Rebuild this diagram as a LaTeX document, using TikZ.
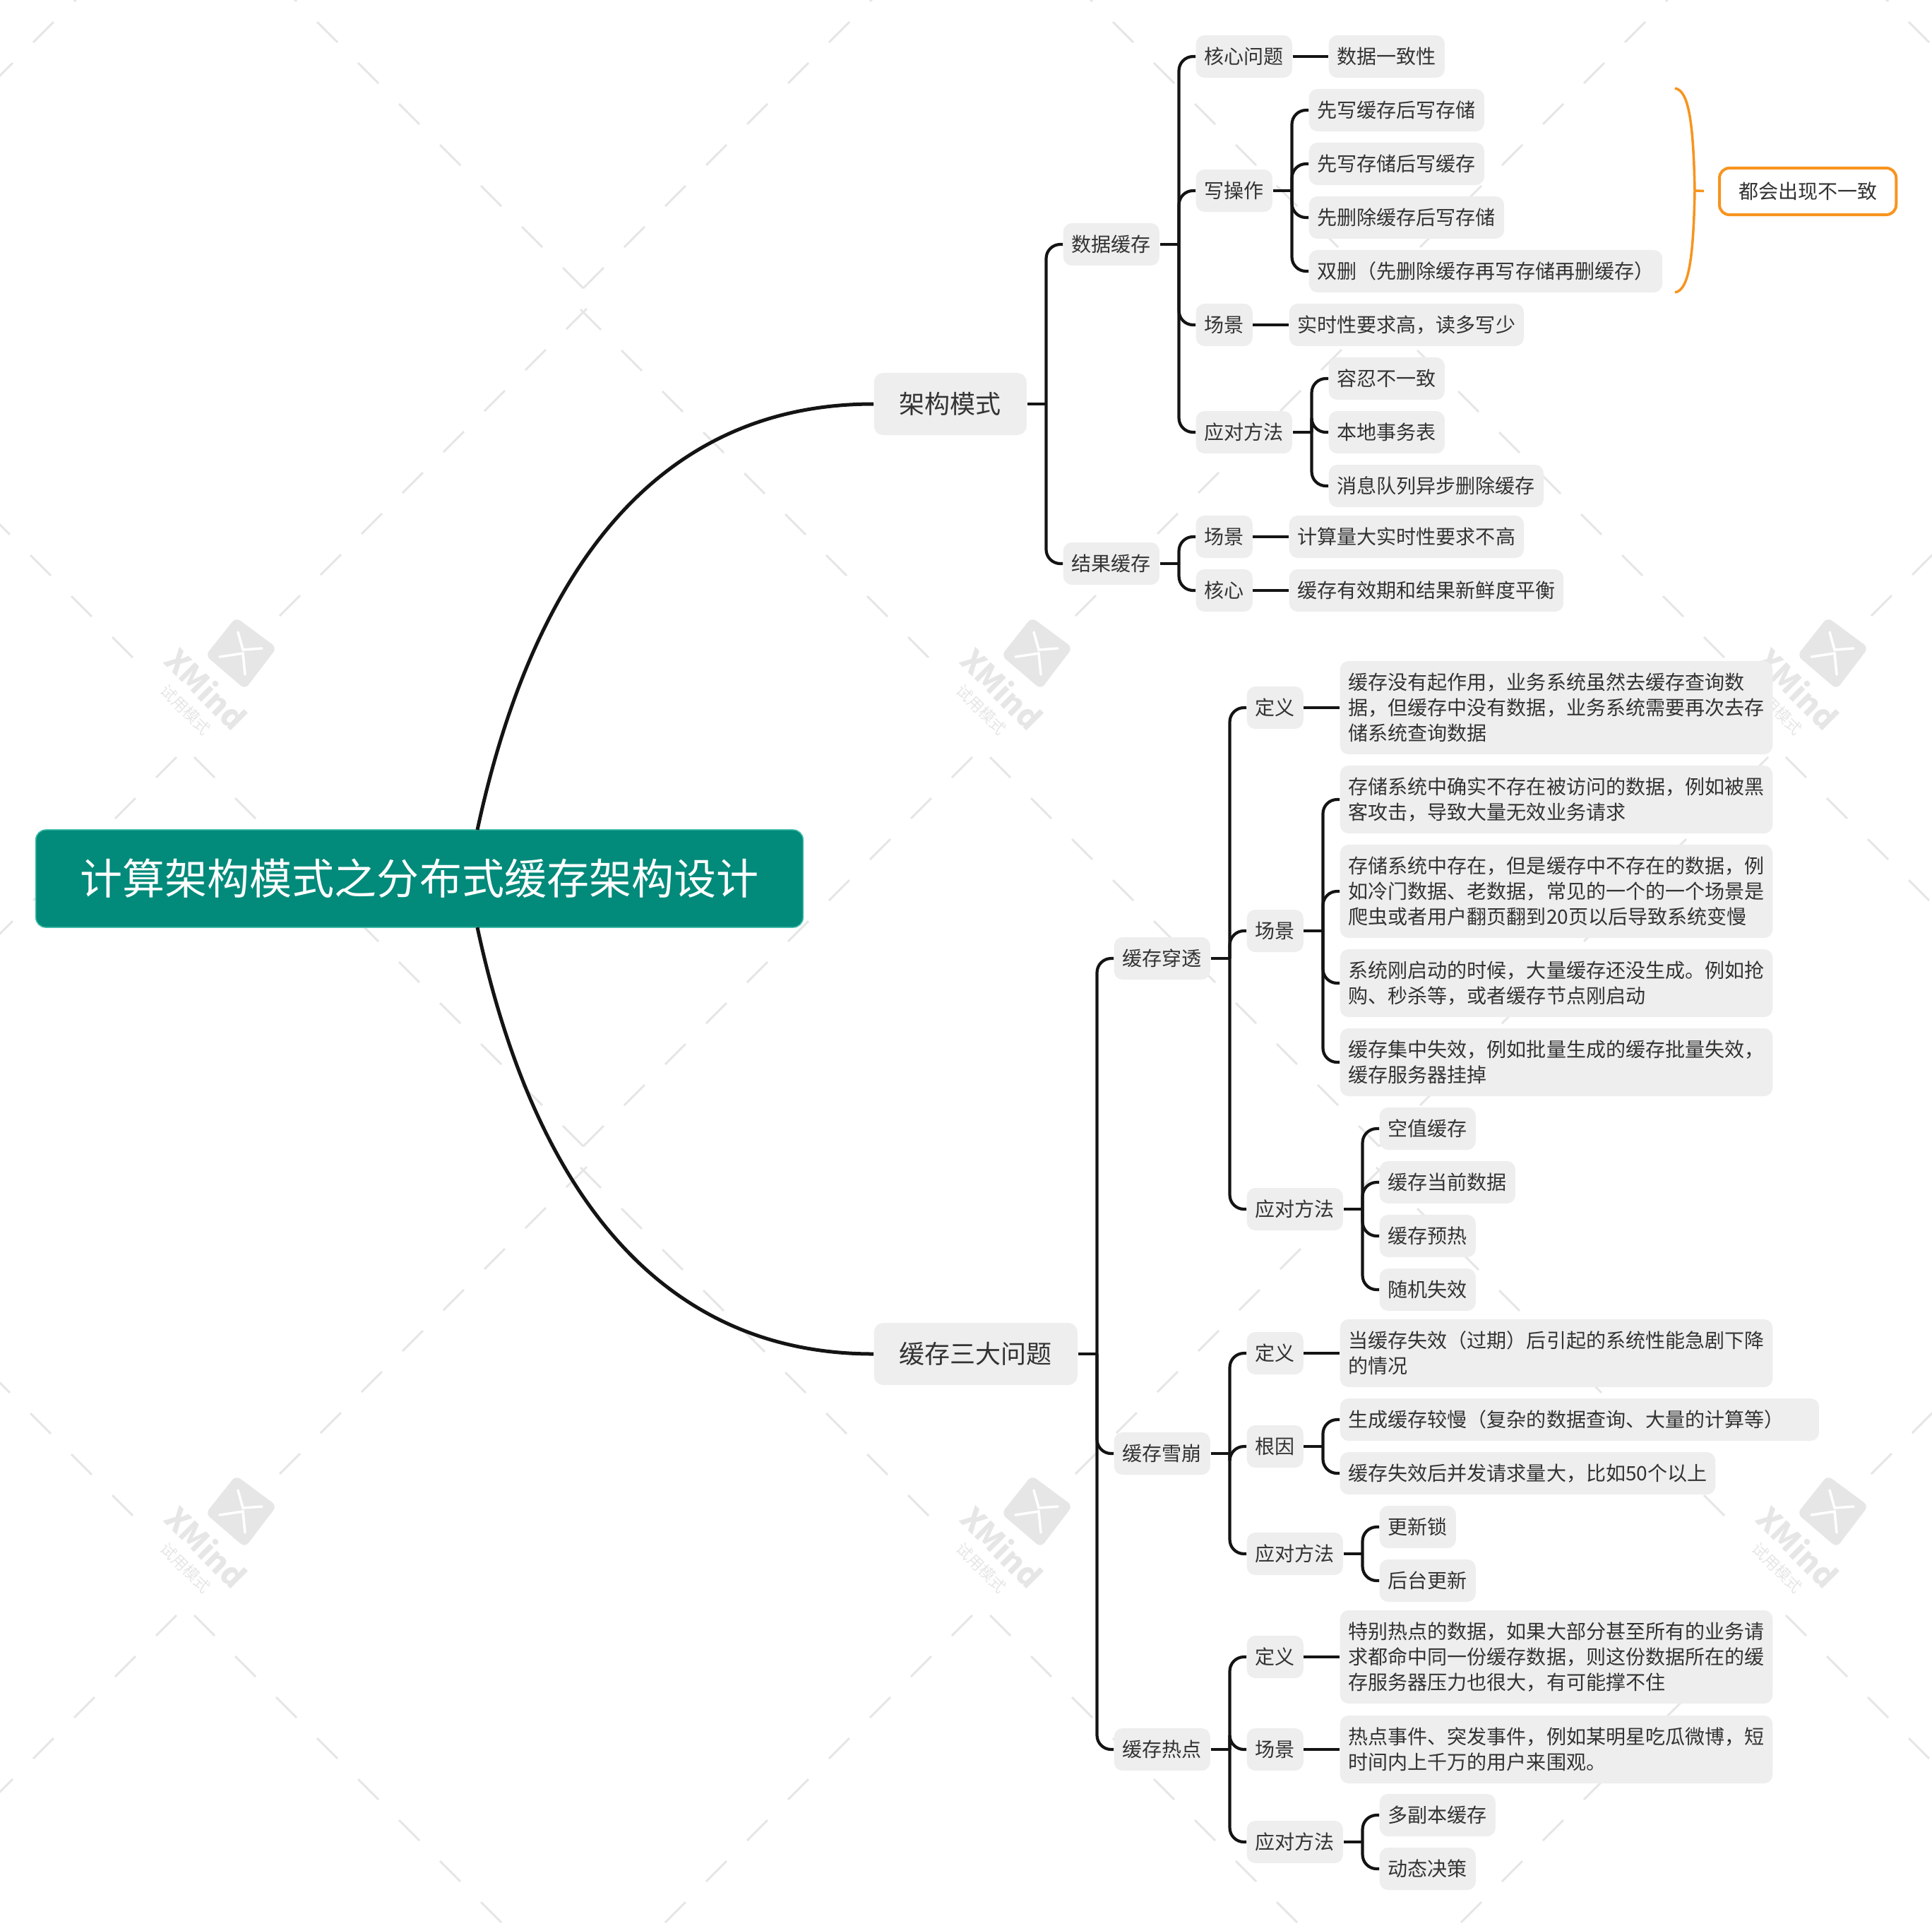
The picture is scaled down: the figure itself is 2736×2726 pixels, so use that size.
\documentclass[tikz,border=0pt]{standalone}
\usepackage{fontspec}
\setmainfont{Noto Sans CJK SC}
\definecolor{topicgray}{HTML}{EEEEEE}
\definecolor{rootgreen}{HTML}{028A7A}
\definecolor{rootedge}{HTML}{45BFAE}
\definecolor{linkblack}{HTML}{141414}
\definecolor{textdark}{HTML}{333333}
\definecolor{braceorange}{HTML}{F7941E}
\definecolor{markgray}{HTML}{E6E6E6}

\tikzset{
  rootbox/.style={fill=rootgreen, draw=rootedge, line width=0.015cm, rounded corners=0.14cm, text=white, minimum width=10.86cm, minimum height=1.38cm, font=\fontsize{17.07}{20}\selectfont},
  maintopic/.style={anchor=west, fill=topicgray, rounded corners=0.13cm, text=textdark, inner xsep=0.36cm, inner ysep=0pt, minimum height=0.88cm, font=\fontsize{10.24}{12}\selectfont},
  topic/.style={anchor=west, fill=topicgray, rounded corners=0.12cm, text=textdark, inner xsep=0.12cm, inner ysep=0pt, minimum height=0.6cm, align=left, font=\fontsize{7.97}{10.24}\selectfont},
  topicb/.style={topic, minimum height=0.96cm},
  topicc/.style={topic, minimum height=1.32cm},
  sumbox/.style={anchor=west, fill=white, draw=braceorange, line width=0.04cm, rounded corners=0.14cm, text=textdark, inner xsep=0.27cm, inner ysep=0pt, minimum height=0.66cm, font=\fontsize{7.97}{10.24}\selectfont},
  link/.style={draw=linkblack, line width=0.042cm},
  mainlink/.style={draw=linkblack, line width=0.05cm},
  brace/.style={draw=braceorange, line width=0.035cm},
  markline/.style={draw=markgray, line width=0.03cm},
  marktext/.style={text=markgray, inner sep=0pt},
}

% 父节点到各子节点的分支
\newcommand{\treelink}[2]{
  \draw[link] (#1.east) -- ++(27,0) coordinate (#1t);
  \foreach \c in {#2} \draw[link, rounded corners=0.2cm] (#1t) |- (\c.west);
}

\begin{document}
\begin{tikzpicture}[x=0.01cm, y=-0.01cm]

            \useasboundingbox (1,0) rectangle (2737,2726);

            % 水印斜线
            \begin{scope}
            \clip (1,0) rectangle (2737,2726);
            \foreach \cx in {-300,827,1954,3081} {
              \foreach \cy in {423,1638,2853} {
                \foreach \k in {0,...,9} {
                  \draw[markline] (\cx-58*\k,\cy-15-58*\k) -- ++(-29,-29);
                  \draw[markline] (\cx+58*\k,\cy-15-58*\k) -- ++(29,-29);
                }
                \foreach \k in {0,...,7}
                  \draw[markline] (\cx+5-58*\k,\cy+14+58*\k) -- ++(-29,29);
                \foreach \k in {0,...,8}
                  \draw[markline] (\cx-4+58*\k,\cy+15+58*\k) -- ++(29,29);
              }
            }
            % 水印图标
            \foreach \lx in {0,1127,2254} {
              \foreach \ly in {0,1215} {
                \begin{scope}[shift={(\lx,\ly)}]
                \fill[markgray, rounded corners=0.08cm] (335,874) -- (393,917) -- (348,976) -- (292,928) -- cycle;
                \draw[white, line width=0.035cm, line cap=round] (312,930) -- (345,925) -- (348,955);
                \draw[white, line width=0.035cm, line cap=round] (338,895) -- (345,920) -- (372,918);
                \node[marktext, rotate=-45, font=\fontsize{12.5}{14}\bfseries] (logo\lx\ly) at (293,975) {XMind};
                \node[marktext, rotate=-45, font=\fontsize{6.3}{7}\selectfont] (logotext\lx\ly) at (264,1005) {试用模式};
                \end{scope}
              }
            }
            \end{scope}

            % 中心主题
            \node[rootbox] (root) at (595,1244) {计算架构模式之分布式缓存架构设计};
            \coordinate (rootup) at (677,1175);
            \coordinate (rootdown) at (677,1313);

            % 架构模式
            \node[maintopic] (jiagou) at (1238,572) {架构模式};
            \node[topic] (shuju) at (1506,346) {数据缓存};
            \node[topic] (jieguo) at (1506,798) {结果缓存};

            \node[topic] (hexin) at (1694,80) {核心问题};
            \node[topic] (yizhi) at (1882,80) {数据一致性};
            \node[topic] (xiecz) at (1694,270) {写操作};
            \node[topic] (xiea) at (1854,156) {先写缓存后写存储};
            \node[topic] (xieb) at (1854,232) {先写存储后写缓存};
            \node[topic] (xiec) at (1854,308) {先删除缓存后写存储};
            \node[topic] (xied) at (1854,384) {双删（先删除缓存再写存储再删缓存）};
            \node[topic] (changj) at (1694,460) {场景};
            \node[topic] (shishi) at (1826,460) {实时性要求高，读多写少};
            \node[topic] (yingd) at (1694,612) {应对方法};
            \node[topic] (yinga) at (1882,536) {容忍不一致};
            \node[topic] (yingb) at (1882,612) {本地事务表};
            \node[topic] (yingc) at (1882,688) {消息队列异步删除缓存};
            \node[topic] (jgcj) at (1694,760) {场景};
            \node[topic] (jisuan) at (1826,760) {计算量大实时性要求不高};
            \node[topic] (jghx) at (1694,836) {核心};
            \node[topic] (youxiao) at (1826,836) {缓存有效期和结果新鲜度平衡};

            % 概要
            \node[sumbox] (gaiyao) at (2434,271) {都会出现不一致};
            \coordinate (bracetop) at (2373,125);
            \coordinate (bracemid) at (2401,270);
            \coordinate (bracebot) at (2373,414);
            \draw[brace] (bracetop) .. controls (2392,128) and (2399,170) .. (bracemid) .. controls (2399,370) and (2392,411) .. (bracebot);
            \draw[brace, shorten >=0.2cm] (bracemid) -- (gaiyao.west);

            % 缓存三大问题
            \node[maintopic] (sanda) at (1238,1917) {缓存三大问题};
            \node[topic] (chuant) at (1578,1357) {缓存穿透};
            \node[topic] (xuebeng) at (1578,2058) {缓存雪崩};
            \node[topic] (redian) at (1578,2477) {缓存热点};

            % 缓存穿透
            \node[topic] (ctdy) at (1766,1002) {定义};
            \node[topicc] (ctdya) at (1898,1002) {缓存没有起作用，业务系统虽然去缓存查询数\\据，但缓存中没有数据，业务系统需要再次去存\\储系统查询数据};
            \node[topic] (ctcj) at (1766,1318) {场景};
            \node[topicb] (ctcja) at (1898,1132) {存储系统中确实不存在被访问的数据，例如被黑\\客攻击，导致大量无效业务请求};
            \node[topicc] (ctcjb) at (1898,1262) {存储系统中存在，但是缓存中不存在的数据，例\\如冷门数据、老数据，常见的一个的一个场景是\\爬虫或者用户翻页翻到20页以后导致系统变慢};
            \node[topicb] (ctcjc) at (1898,1392) {系统刚启动的时候，大量缓存还没生成。例如抢\\购、秒杀等，或者缓存节点刚启动};
            \node[topicb] (ctcjd) at (1898,1504) {缓存集中失效，例如批量生成的缓存批量失效，\\缓存服务器挂掉};
            \node[topic] (ctyd) at (1766,1712) {应对方法};
            \node[topic] (ctyda) at (1954,1598) {空值缓存};
            \node[topic] (ctydb) at (1954,1674) {缓存当前数据};
            \node[topic] (ctydc) at (1954,1750) {缓存预热};
            \node[topic] (ctydd) at (1954,1826) {随机失效};

            % 缓存雪崩
            \node[topic] (xbdy) at (1766,1916) {定义};
            \node[topicb] (xbdya) at (1898,1916) {当缓存失效（过期）后引起的系统性能急剧下降\\的情况};
            \node[topic] (xbgy) at (1766,2048) {根因};
            \node[topic, text width=6.54cm] (xbgya) at (1898,2010) {生成缓存较慢（复杂的数据查询、大量的计算等）};
            \node[topic] (xbgyb) at (1898,2086) {缓存失效后并发请求量大，比如50个以上};
            \node[topic] (xbyd) at (1766,2200) {应对方法};
            \node[topic] (xbyda) at (1954,2162) {更新锁};
            \node[topic] (xbydb) at (1954,2238) {后台更新};

            % 缓存热点
            \node[topic] (rddy) at (1766,2346) {定义};
            \node[topicc] (rddya) at (1898,2346) {特别热点的数据，如果大部分甚至所有的业务请\\求都命中同一份缓存数据，则这份数据所在的缓\\存服务器压力也很大，有可能撑不住};
            \node[topic] (rdcj) at (1766,2477) {场景};
            \node[topicb] (rdcja) at (1898,2477) {热点事件、突发事件，例如某明星吃瓜微博，短\\时间内上千万的用户来围观。};
            \node[topic] (rdyd) at (1766,2608) {应对方法};
            \node[topic] (rdyda) at (1954,2570) {多副本缓存};
            \node[topic] (rdydb) at (1954,2646) {动态决策};

            % 主干曲线
            \draw[mainlink] (rootup) .. controls (790,650) and (1060,572) .. (jiagou.west);
            \draw[mainlink] (rootdown) .. controls (790,1839) and (1060,1917) .. (sanda.west);

            % 分支
            \treelink{jiagou}{shuju,jieguo}
            \treelink{shuju}{hexin,xiecz,changj,yingd}
            \treelink{xiecz}{xiea,xieb,xiec,xied}
            \treelink{yingd}{yinga,yingb,yingc}
            \treelink{jieguo}{jgcj,jghx}
            \draw[link] (hexin) -- (yizhi);
            \draw[link] (changj) -- (shishi);
            \draw[link] (jgcj) -- (jisuan);
            \draw[link] (jghx) -- (youxiao);

            \treelink{sanda}{chuant,xuebeng,redian}
            \treelink{chuant}{ctdy,ctcj,ctyd}
            \treelink{ctcj}{ctcja,ctcjb,ctcjc,ctcjd}
            \treelink{ctyd}{ctyda,ctydb,ctydc,ctydd}
            \draw[link] (ctdy) -- (ctdya);

            \treelink{xuebeng}{xbdy,xbgy,xbyd}
            \treelink{xbgy}{xbgya,xbgyb}
            \treelink{xbyd}{xbyda,xbydb}
            \draw[link] (xbdy) -- (xbdya);

            \treelink{redian}{rddy,rdcj,rdyd}
            \treelink{rdyd}{rdyda,rdydb}
            \draw[link] (rddy) -- (rddya);
            \draw[link] (rdcj) -- (rdcja);

\end{tikzpicture}
\end{document}
